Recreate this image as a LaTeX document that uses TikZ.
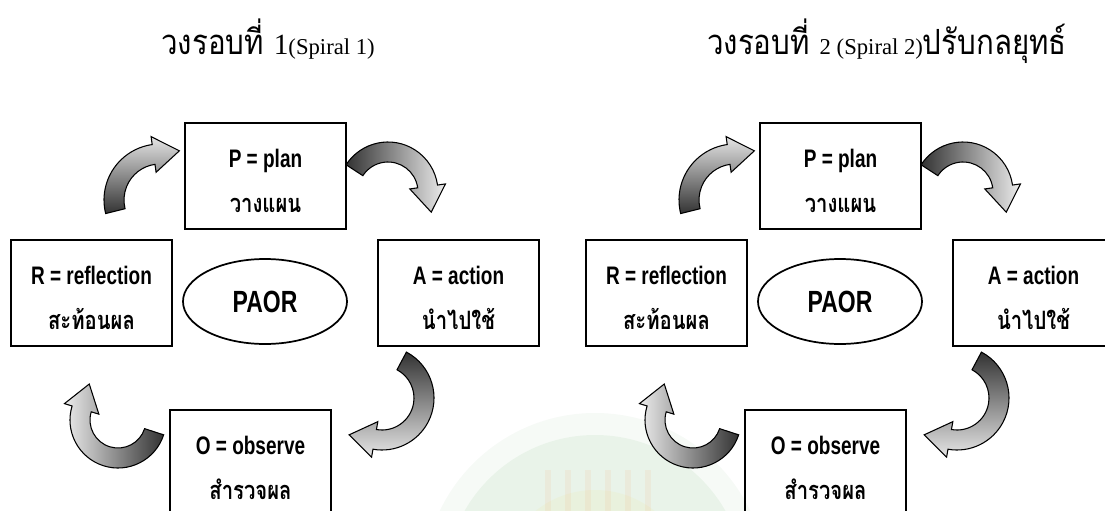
\documentclass[tikz,border=0pt]{standalone}
\usepackage{fontspec}
\setmainfont{Liberation Serif}
\newfontfamily\thai[Script=Thai,FakeStretch=0.85]{Loma}
\newfontfamily\thaib[Script=Thai,FakeStretch=0.8]{Loma}
\newfontfamily\cond[FakeStretch=0.75]{Liberation Sans}
\usetikzlibrary{shapes.geometric}

\newcommand{\barrow}[7]{%
  \pgfmathsetmacro{\baAx}{#2+(#4+10)*cos(#5)}\pgfmathsetmacro{\baAy}{#3+(#4+10)*sin(#5)}%
  \pgfmathsetmacro{\baBx}{#2+(#4+18)*cos(#6)}\pgfmathsetmacro{\baBy}{#3+(#4+18)*sin(#6)}%
  \pgfmathsetmacro{\baTx}{#2+#4*cos(#6)+26*cos(#7)}\pgfmathsetmacro{\baTy}{#3+#4*sin(#6)+26*sin(#7)}%
  \pgfmathsetmacro{\baCx}{#2+(#4-18)*cos(#6)}\pgfmathsetmacro{\baCy}{#3+(#4-18)*sin(#6)}%
  \pgfmathsetmacro{\baDx}{#2+(#4-10)*cos(#6)}\pgfmathsetmacro{\baDy}{#3+(#4-10)*sin(#6)}%
  \pgfmathsetmacro{\baRo}{#4+10}\pgfmathsetmacro{\baRi}{#4-10}%
  \path[#1] (\baAx,\baAy) arc[start angle=#5,end angle=#6,radius=\baRo]
    -- (\baBx,\baBy) -- (\baTx,\baTy) -- (\baCx,\baCy) -- (\baDx,\baDy)
    arc[start angle=#6,end angle=#5,radius=\baRi] -- cycle;}

\tikzset{
  box/.style={draw, line width=0.9pt, minimum width=120.75pt, minimum height=79.5pt,
    align=center, inner sep=0pt, font=\fontsize{19}{34}\selectfont},
  hub/.style={ellipse, draw, line width=1.3pt, minimum width=123pt, minimum height=63.75pt,
    inner sep=0pt, font=\cond\bfseries\fontsize{23}{23}\selectfont},
  title/.style={anchor=base, inner sep=0pt},
  clip arrow/.style={draw=black, line width=0.8pt},
}

\newcommand{\paorcycle}[1]{%
  \node[box] (P#1) at (265.5,176) {\rule{0pt}{21pt}{\cond\bfseries P = plan}\\{\thaib\bfseries วางแผน}};
  \node[box] (R#1) at (91.5,293) {\rule{0pt}{21pt}{\cond\bfseries R = reflection}\\{\thaib\bfseries สะท้อนผล}};
  \node[box] (A#1) at (458.5,293) {\rule{0pt}{21pt}{\cond\bfseries A = action}\\{\thaib\bfseries นำไปใช้}};
  \node[box] (O#1) at (250.5,463) {\rule{0pt}{21pt}{\cond\bfseries O = observe}\\{\thaib\bfseries สำรวจผล}};
  \node[hub] (H#1) at (265,301.5) {PAOR};
  \barrow{clip arrow, top color=gray!20, bottom color=black!80}{160}{200}{46}{166}{262}{352}
  \barrow{clip arrow, left color=black!80, right color=gray!15}{388}{192}{40}{213}{352}{82}
  \barrow{clip arrow, top color=black!80, bottom color=gray!20}{382}{398}{42}{298}{460}{190}
  \barrow{clip arrow, right color=black!80, left color=gray!15}{118}{420}{38}{18}{197}{287}
}

\begin{document}
\begin{tikzpicture}[x=0.75pt, y=-0.75pt]
\useasboundingbox (0,0) rectangle (1105,510);
\clip (0,0) rectangle (1105,510);
\fill[white] (0,0) rectangle (1105,510);
% faint watermark
\fill[green!45!black, opacity=0.035] (595,585) circle[radius=172];
\fill[green!50!black, opacity=0.05] (595,585) circle[radius=150];
\fill[yellow!70!orange, opacity=0.05] (595,585) circle[radius=95];
\foreach \xx in {545,565,585,605,625,645}{
  \fill[orange!80!red, opacity=0.06] (\xx,470) rectangle ++(6,45);
}
\node[title] (T1) at (268,55) {{\thai\fontsize{26}{26}\selectfont วงรอบที่ }{\fontsize{22}{22}\selectfont 1}{\fontsize{17}{17}\selectfont(Spiral 1)}};
\node[title] (T2) at (887,55) {{\thai\fontsize{26}{26}\selectfont วงรอบที่ }{\fontsize{17}{17}\selectfont 2 (Spiral 2)}{\thai\fontsize{26}{26}\selectfont ปรับกลยุทธ์}};
\paorcycle{a}
\begin{scope}[shift={(575,0)}]
\paorcycle{b}
\end{scope}
\end{tikzpicture}
\end{document}
